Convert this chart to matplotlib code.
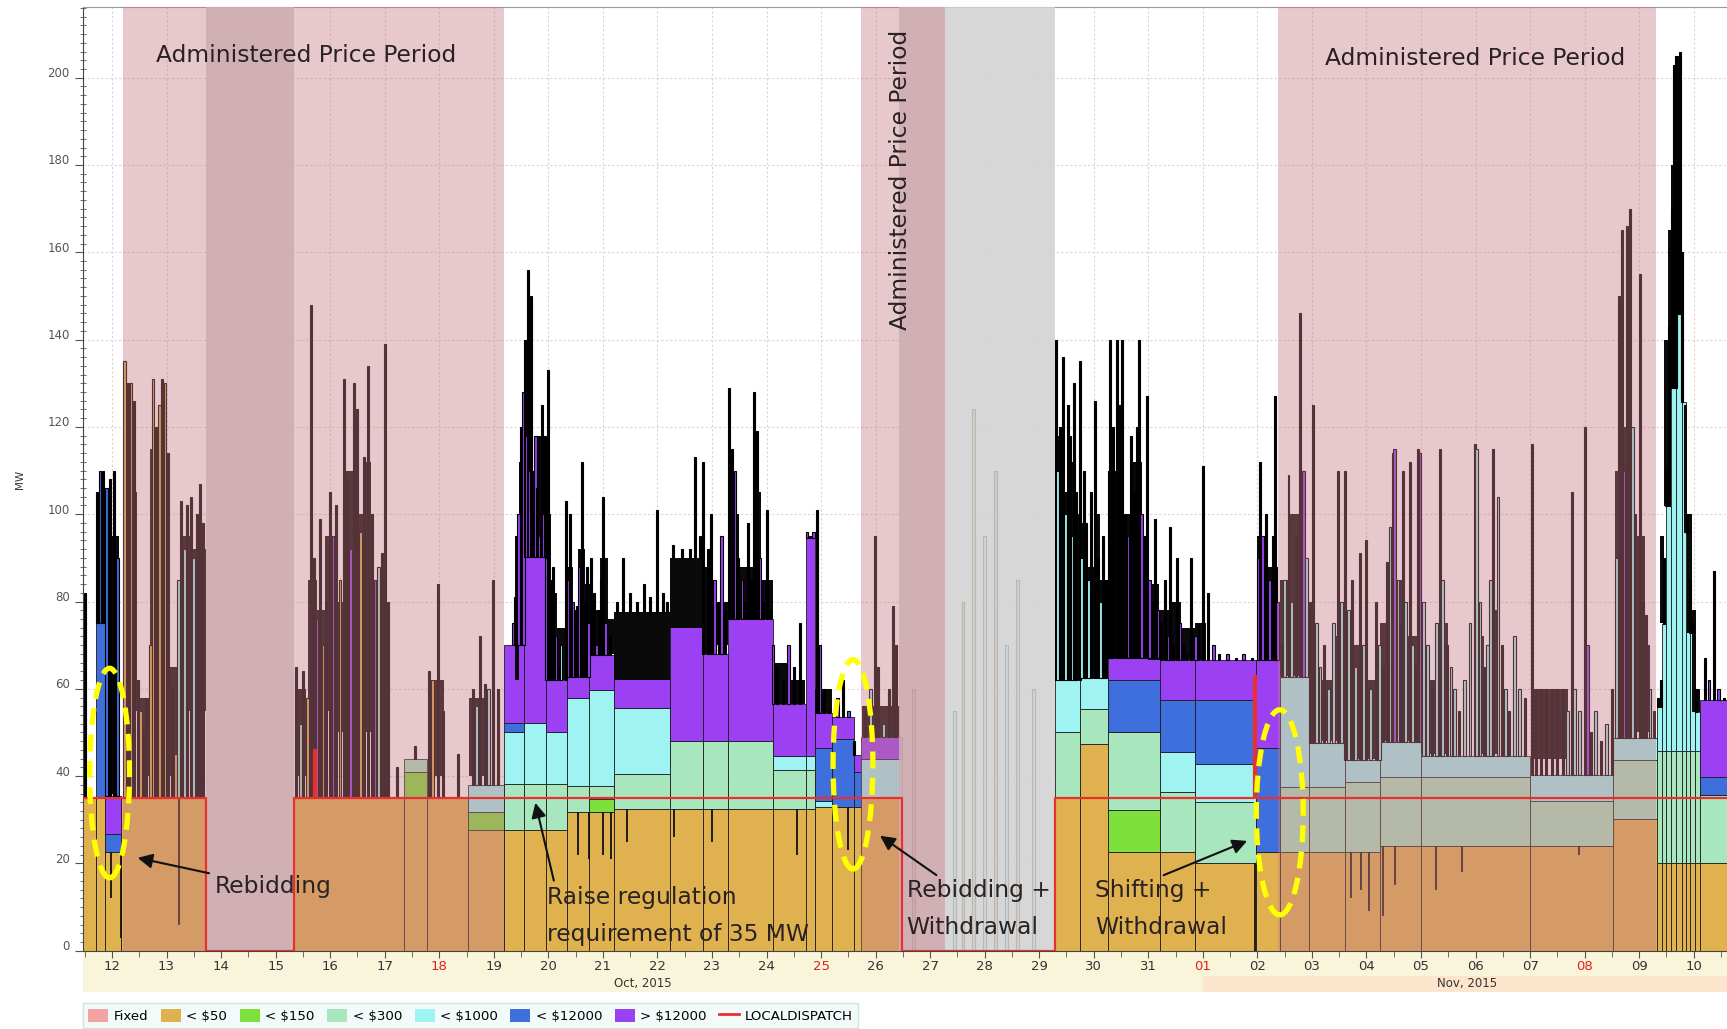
import numpy as np
import matplotlib
matplotlib.use("Agg")
import matplotlib.pyplot as plt
from matplotlib.patches import Ellipse, Rectangle, Patch
from matplotlib.lines import Line2D
from matplotlib.transforms import blended_transform_factory, ScaledTranslation

# time axis: day of Oct 2015 (Nov 1 = 32)
X_MIN, X_MAX = 11.468, 41.61
Y_MAX = 216.2

# step segments: start day and MW offered in each price band
seg_t = [11.45, 11.70, 11.88, 12.17, 13.72, 15.33, 17.35, 17.78, 18.52, 19.19,
         19.55, 19.95, 20.35, 20.75, 21.20, 22.23, 22.84, 23.30, 24.12, 24.72,
         24.88, 25.20, 25.60, 25.74, 26.48, 29.29, 29.75, 30.26, 31.21, 31.85,
         32.97, 33.41, 33.95, 34.60, 35.25, 36.00, 37.99, 39.52, 40.32, 40.41,
         40.50, 40.59, 40.68, 40.78, 40.85, 40.93, 41.02, 41.11]
lt50 = [35, 35, 22.6, 35, 0, 35, 35, 35, 27.7, 27.7,
        27.7, 27.7, 31.8, 31.8, 32.5, 32.5, 32.5, 32.5, 32.5, 32.5,
        32.9, 32.9, 32.9, 35, 0, 35, 47.4, 22.6, 22.6, 20.2,
        22.6, 22.6, 22.6, 22.6, 24.1, 24.1, 24.1, 30.2, 20, 20,
        20, 20, 20, 20, 20, 20, 20, 20]
lt150 = [0, 0, 0, 0, 0, 0, 6, 0, 4, 0,
         0, 0, 0, 3, 0, 0, 0, 0, 0, 0,
         0, 0, 0, 0, 0, 0, 0, 9.6, 0, 0,
         0, 0, 0, 0, 0, 0, 0, 0, 0, 0,
         0, 0, 0, 0, 0, 0, 0, 0]
lt300 = [0, 0, 0, 0, 0, 0, 3, 0, 0, 10.4,
         10.4, 10.4, 6, 3, 8, 15.5, 15.5, 15.5, 9, 9,
         0, 0, 0, 0, 0, 15, 8, 17.8, 13.8, 13.8,
         0, 15, 15, 16, 15.6, 15.6, 10.2, 13.6, 25.8, 25.8,
         25.8, 25.8, 25.8, 25.8, 25.8, 25.8, 25.8, 15.6]
lt1000 = [0, 0, 0, 0, 0, 0, 0, 0, 6.3, 12,
          14, 12, 20, 22, 15, 0, 0, 0, 3, 3,
          1.5, 0, 0, 9, 0, 12, 7, 0, 9.2, 8.8,
          0, 25, 10, 5, 8, 5, 6, 5, 10, 29,
          56, 83, 100, 80, 50, 27, 9, 0]
lt12000 = [0, 40, 4.1, 0, 0, 0, 0, 0, 0, 2,
           0, 0, 0, 0, 0, 0, 0, 0, 0, 0,
           12, 15.6, 8, 0, 0, 0, 0, 12, 11.9, 14.7,
           23.9, 0, 0, 0, 0, 0, 0, 0, 0, 0,
           0, 0, 0, 0, 0, 0, 0, 4.1]
gt12000 = [0, 0, 8.7, 0, 0, 0, 0, 0, 0, 18,
           38, 12, 5, 8, 22, 42, 20, 28, 12, 50,
           8, 5, 4, 5, 0, 0, 0, 5, 9.2, 9.2,
           20, 0, 0, 0, 0, 0, 0, 0, 0, 0,
           0, 0, 0, 0, 0, 0, 0, 17.7]

# dark mass where the 5-minute outlines overlap: (start, end, low MW, high MW)
mass_oct_a = [(11.70, 11.88, 75, 100), (11.92, 12.12, 36, 95), (12.20, 12.32, 60, 118),
              (12.32, 12.45, 55, 105), (12.45, 12.70, 40, 58), (12.70, 12.85, 60, 115),
              (12.85, 13.05, 55, 110), (13.05, 13.25, 40, 65), (13.25, 13.45, 55, 95),
              (13.45, 13.72, 55, 92), (15.36, 15.55, 40, 60), (15.60, 15.75, 50, 85),
              (15.75, 15.90, 50, 78), (15.90, 16.10, 55, 95), (16.10, 16.25, 50, 80),
              (16.25, 16.45, 55, 110), (16.45, 16.60, 55, 100), (16.60, 16.75, 50, 112),
              (16.75, 16.90, 45, 85), (16.90, 17.05, 45, 88), (17.80, 18.08, 40, 62),
              (18.55, 18.95, 40, 58)]
mass_oct_b = [(19.38, 19.47, 62, 95), (19.47, 19.55, 70, 112), (19.55, 19.62, 90, 118),
              (19.62, 19.72, 92, 135), (19.72, 19.80, 90, 110), (19.80, 19.90, 90, 118),
              (19.90, 19.95, 90, 105), (19.95, 20.05, 62, 100), (20.05, 20.15, 62, 82),
              (20.15, 20.30, 62, 74), (20.33, 20.45, 63, 88), (20.45, 20.55, 63, 78),
              (20.55, 20.68, 63, 92), (20.68, 20.80, 68, 84), (20.80, 20.95, 68, 78),
              (20.95, 21.10, 68, 90), (21.10, 21.20, 68, 76), (21.20, 22.23, 62, 77.5),
              (22.23, 22.84, 74, 90), (22.84, 23.00, 68, 88), (23.00, 23.30, 70, 80),
              (23.30, 23.50, 76, 100), (23.50, 23.75, 76, 88), (23.75, 23.90, 76, 105),
              (23.90, 24.12, 76, 85), (24.12, 24.40, 56.5, 66), (24.40, 24.70, 56.5, 62),
              (24.88, 25.20, 54.4, 60), (25.75, 26.45, 49, 56)]
mass_oct_c = [(29.29, 29.40, 62, 118), (29.40, 29.52, 62, 105), (29.52, 29.62, 62, 112),
              (29.62, 29.75, 62, 100), (29.75, 29.88, 62.4, 98), (29.88, 30.00, 62.4, 88),
              (30.00, 30.12, 62.4, 100), (30.12, 30.26, 62.4, 85), (30.26, 30.40, 67, 110),
              (30.40, 30.55, 67, 118), (30.55, 30.70, 67, 100), (30.70, 30.88, 67, 112),
              (30.88, 31.00, 67, 95), (31.00, 31.20, 66.7, 84), (31.20, 31.40, 66.7, 78),
              (31.40, 31.60, 66.7, 80), (31.60, 31.85, 66.7, 74), (31.85, 32.05, 66.7, 75)]
mass_nov = [(33.00, 33.15, 66.5, 95), (33.15, 33.37, 66.5, 88), (33.41, 33.60, 63, 85),
            (33.60, 33.85, 63, 100), (33.85, 33.95, 63, 80), (33.95, 34.10, 48, 75),
            (34.10, 34.40, 48, 62), (34.40, 34.65, 48, 72), (34.65, 34.95, 44, 70),
            (34.95, 35.25, 44, 62), (35.25, 35.45, 48, 75), (35.45, 35.70, 48, 85),
            (35.70, 36.00, 48, 72), (36.00, 36.25, 45, 62), (36.25, 36.50, 45, 75),
            (37.00, 37.15, 45, 72), (37.25, 37.45, 45, 78), (38.03, 38.70, 44, 60),
            (39.55, 39.70, 50, 110), (39.70, 39.90, 50, 120), (39.90, 40.10, 50, 95),
            (40.10, 40.20, 50, 70), (40.38, 40.45, 75, 95), (40.45, 40.52, 101.8, 140),
            (40.52, 40.58, 128.8, 165), (40.58, 40.62, 128.8, 180), (40.62, 40.68, 128.8, 200),
            (40.68, 40.74, 145.8, 205), (40.74, 40.78, 145.8, 170), (40.78, 40.82, 125.8, 150),
            (40.82, 40.88, 95.8, 125), (40.88, 40.96, 72.8, 100), (40.96, 41.05, 54.8, 78),
            (41.05, 41.11, 54.8, 60)]

# LOCALDISPATCH
dispatch_t = [11.45, 13.72, 15.33, 15.70, 15.74, 26.48, 29.29, 32.93, 32.97, 41.61]
dispatch_mw = [35, 0, 35, 46, 35, 0, 35, 63, 35, 35]

# short spikes on top of the stack: (day, top MW, band)
spikes_oct11 = [(11.50, 82, 'k'), (11.72, 105, 'k'), (11.78, 110, 'b'), (11.84, 110, 'k'),
                (11.90, 106, 'b'), (11.96, 108, 'k'), (12.03, 110, 'k'), (12.10, 90, 'b')]
spikes_oct12 = [(12.23, 135, 'g'), (12.29, 130, 'k'), (12.35, 130, 'g'), (12.40, 126, 'k'),
                (12.47, 62, 'k'), (12.52, 55, 'g'), (12.58, 50, 'k'), (12.63, 58, 'k'),
                (12.70, 70, 'g'), (12.75, 131, 'g'), (12.81, 120, 'k'), (12.87, 125, 'g'),
                (12.92, 131, 'k'), (12.97, 130, 'g'), (13.03, 114, 'k'), (13.10, 60, 'k'),
                (13.16, 45, 'g'), (13.22, 85, 'c'), (13.27, 103, 'k'), (13.33, 92, 'c'),
                (13.38, 102, 'k'), (13.45, 104, 'k'), (13.50, 90, 'c'), (13.56, 100, 'k'),
                (13.62, 107, 'k'), (13.67, 98, 'k')]
spikes_oct15 = [(15.38, 65, 'k'), (15.45, 52, 'l'), (15.50, 64, 'k'), (15.58, 58, 'g'),
                (15.65, 148, 'k'), (15.70, 90, 'k'), (15.76, 76, 'p'), (15.81, 99, 'k'),
                (15.87, 70, 'g'), (15.93, 80, 'k'), (15.99, 105, 'k'), (16.05, 95, 'p'),
                (16.11, 102, 'k'), (16.18, 85, 'g'), (16.26, 131, 'k'), (16.31, 108, 'k'),
                (16.37, 92, 'p'), (16.44, 130, 'k'), (16.50, 124, 'k'), (16.56, 96, 'g'),
                (16.62, 113, 'k'), (16.70, 134, 'k'), (16.76, 100, 'k'), (16.82, 85, 'p'),
                (16.88, 88, 'l'), (16.95, 91, 'k'), (17.01, 139, 'k'), (17.06, 80, 'k')]
spikes_oct17 = [(17.22, 42, 'k'), (17.55, 47, 'k'), (17.82, 64, 'k'), (17.88, 62, 'g'),
                (17.98, 84, 'k'), (18.07, 55, 'k'), (18.35, 45, 'k'), (18.62, 60, 'k'),
                (18.68, 56, 'c'), (18.75, 72, 'k'), (18.83, 61, 'k'), (18.90, 60, 'c'),
                (18.99, 85, 'k'), (19.08, 60, 'k')]
spikes_oct19 = [(19.25, 62, 'c'), (19.30, 70, 'k'), (19.35, 75, 'p'), (19.39, 81, 'k'),
                (19.45, 100, 'p'), (19.50, 120, 'k'), (19.54, 128, 'p'), (19.57, 140, 'k'),
                (19.60, 118, 'p'), (19.63, 156, 'k'), (19.66, 110, 'p'), (19.69, 150, 'k'),
                (19.73, 100, 'k'), (19.76, 118, 'p'), (19.79, 106, 'k'), (19.83, 95, 'p'),
                (19.88, 125, 'k'), (19.91, 100, 'p'), (19.94, 118, 'k'), (19.97, 90, 'p'),
                (20.00, 133, 'k'), (20.04, 85, 'k'), (20.09, 88, 'k'), (20.14, 72, 'p'),
                (20.19, 65, 'k'), (20.23, 70, 'c'), (20.27, 56, 'k'), (20.33, 103, 'k'),
                (20.37, 85, 'p'), (20.40, 100, 'k'), (20.45, 80, 'p'), (20.48, 75, 'k'),
                (20.52, 79, 'k'), (20.56, 88, 'p'), (20.61, 112, 'k'), (20.65, 80, 'k'),
                (20.70, 88, 'k'), (20.74, 75, 'p'), (20.79, 90, 'k'), (20.84, 82, 'k'),
                (20.88, 70, 'p'), (20.92, 78, 'k'), (20.96, 85, 'k'), (21.01, 104, 'k'),
                (21.05, 75, 'p'), (21.09, 68, 'k'), (21.13, 72, 'k')]
spikes_oct21 = [(21.25, 80, 'k'), (21.37, 90, 'k'), (21.50, 82, 'k'), (21.62, 80, 'k'),
                (21.75, 84, 'k'), (21.87, 81, 'k'), (21.99, 101, 'k'), (22.10, 82, 'k'),
                (22.18, 80, 'k'), (22.29, 93, 'k'), (22.45, 92, 'k'), (22.60, 92, 'k'),
                (22.69, 113, 'k'), (22.78, 95, 'k'), (22.84, 112, 'k'), (22.92, 92, 'k'),
                (22.99, 100, 'k'), (23.05, 85, 'p'), (23.12, 80, 'k'), (23.18, 95, 'p'),
                (23.24, 78, 'k'), (23.31, 129, 'k'), (23.36, 115, 'k'), (23.42, 110, 'p'),
                (23.48, 90, 'k'), (23.55, 85, 'p'), (23.60, 80, 'k'), (23.66, 98, 'k'),
                (23.72, 85, 'k'), (23.77, 128, 'k'), (23.82, 119, 'k'), (23.88, 90, 'p'),
                (23.94, 80, 'k'), (24.00, 101, 'k'), (24.06, 78, 'k'), (24.12, 70, 'p'),
                (24.20, 65, 'k'), (24.30, 62, 'k'), (24.40, 70, 'p'), (24.50, 65, 'k'),
                (24.62, 75, 'k'), (24.74, 96, 'p'), (24.80, 95, 'k'), (24.86, 96, 'p'),
                (24.92, 101, 'k'), (24.98, 70, 'p'), (25.05, 60, 'k'), (25.15, 55, 'k'),
                (25.30, 58, 'p'), (25.40, 62, 'k'), (25.50, 55, 'b'), (25.60, 48, 'k')]
spikes_oct25 = [(25.80, 55, 'k'), (25.90, 60, 'c'), (25.99, 95, 'k'), (26.05, 65, 'k'),
                (26.15, 52, 'c'), (26.25, 60, 'k'), (26.32, 79, 'k'), (26.38, 70, 'k'),
                (26.70, 60, 'g'), (27.45, 55, 'c'), (27.60, 80, 'g'), (27.80, 124, 'g'),
                (28.00, 95, 'c'), (28.20, 110, 'g'), (28.40, 70, 'c'), (28.60, 85, 'g'),
                (28.90, 60, 'c')]
spikes_oct29 = [(29.30, 140, 'k'), (29.34, 110, 'c'), (29.38, 120, 'k'), (29.44, 136, 'k'),
                (29.48, 100, 'c'), (29.52, 125, 'k'), (29.56, 118, 'k'), (29.60, 95, 'c'),
                (29.64, 130, 'k'), (29.68, 105, 'k'), (29.74, 135, 'k'), (29.78, 90, 'c'),
                (29.82, 110, 'k'), (29.86, 98, 'k'), (29.90, 85, 'c'), (29.95, 105, 'k'),
                (30.02, 126, 'k'), (30.07, 90, 'k'), (30.12, 80, 'c'), (30.17, 95, 'k'),
                (30.22, 85, 'k'), (30.27, 110, 'k'), (30.30, 140, 'k'), (30.36, 120, 'k'),
                (30.42, 140, 'k'), (30.48, 125, 'k'), (30.52, 140, 'k'), (30.58, 100, 'k'),
                (30.63, 95, 'p'), (30.68, 118, 'k'), (30.74, 105, 'k'), (30.80, 120, 'k'),
                (30.83, 140, 'k'), (30.88, 100, 'p'), (30.93, 95, 'k'), (30.97, 127, 'k'),
                (31.02, 85, 'p'), (31.07, 80, 'k'), (31.12, 99, 'k'), (31.18, 78, 'p'),
                (31.24, 75, 'k'), (31.30, 85, 'k'), (31.36, 72, 'p'), (31.40, 97, 'k'),
                (31.46, 70, 'k'), (31.52, 90, 'k'), (31.58, 75, 'p'), (31.64, 70, 'k'),
                (31.70, 68, 'k'), (31.79, 90, 'k'), (31.86, 72, 'p'), (31.92, 75, 'k'),
                (32.01, 111, 'k'), (32.10, 82, 'k'), (32.20, 70, 'p'), (32.30, 68, 'k'),
                (32.45, 68, 'p'), (32.60, 67, 'k'), (32.75, 68, 'p'), (32.90, 67, 'k'),
                (33.02, 90, 'p'), (33.05, 112, 'k'), (33.10, 95, 'p'), (33.16, 100, 'k'),
                (33.22, 85, 'p'), (33.28, 95, 'k'), (33.32, 127, 'k'), (33.37, 80, 'p')]
spikes_nov02 = [(33.45, 70, 'k'), (33.50, 85, 'c'), (33.57, 109, 'k'), (33.63, 80, 'c'),
                (33.70, 95, 'k'), (33.78, 146, 'k'), (33.84, 110, 'p'), (33.90, 90, 'c'),
                (33.96, 80, 'k'), (34.02, 125, 'k'), (34.08, 75, 'c'), (34.15, 65, 'c'),
                (34.22, 70, 'k'), (34.30, 60, 'c'), (34.40, 75, 'c'), (34.48, 110, 'k'),
                (34.54, 80, 'c'), (34.60, 110, 'k'), (34.67, 78, 'c'), (34.73, 85, 'k'),
                (34.80, 65, 'c'), (34.88, 91, 'k'), (34.94, 70, 'c'), (35.00, 94, 'k'),
                (35.08, 60, 'c'), (35.18, 80, 'k'), (35.24, 70, 'c'), (35.30, 65, 'k'),
                (35.38, 89, 'k'), (35.43, 97, 'c'), (35.49, 114, 'k'), (35.52, 115, 'p'),
                (35.58, 85, 'c'), (35.62, 75, 'k'), (35.67, 110, 'k'), (35.72, 80, 'c'),
                (35.80, 112, 'k'), (35.85, 70, 'c'), (35.90, 65, 'k'), (35.95, 115, 'k'),
                (35.98, 114, 'p'), (36.05, 80, 'c'), (36.12, 70, 'c'), (36.20, 60, 'k'),
                (36.28, 75, 'c'), (36.35, 115, 'k'), (36.40, 85, 'c'), (36.48, 70, 'k'),
                (36.55, 65, 'c'), (36.62, 60, 'c'), (36.70, 55, 'k'), (36.80, 62, 'c')]
spikes_nov05 = [(36.90, 75, 'c'), (36.99, 116, 'k'), (37.02, 115, 'c'), (37.08, 80, 'c'),
                (37.15, 65, 'k'), (37.22, 70, 'c'), (37.28, 85, 'c'), (37.32, 115, 'k'),
                (37.41, 104, 'c'), (37.48, 70, 'k'), (37.55, 60, 'c'), (37.62, 55, 'k'),
                (37.72, 72, 'c'), (37.80, 60, 'c'), (37.90, 58, 'k'), (38.03, 116, 'k'),
                (38.10, 60, 'k'), (38.20, 60, 'k'), (38.30, 60, 'k'), (38.40, 60, 'k'),
                (38.50, 60, 'k'), (38.60, 60, 'k'), (38.68, 55, 'c'), (38.76, 105, 'k'),
                (38.82, 60, 'c'), (38.90, 55, 'c'), (39.00, 120, 'k'), (39.05, 70, 'p'),
                (39.12, 50, 'k'), (39.20, 55, 'c'), (39.30, 48, 'k'), (39.40, 52, 'c'),
                (39.50, 60, 'k'), (39.58, 90, 'c'), (39.63, 150, 'k'), (39.68, 165, 'k'),
                (39.72, 110, 'p'), (39.77, 166, 'k'), (39.83, 170, 'k'), (39.88, 120, 'c'),
                (39.93, 100, 'k'), (40.01, 155, 'k'), (40.07, 80, 'k'), (40.13, 77, 'k'),
                (40.20, 60, 'c'), (40.27, 55, 'k')]
spikes_nov09 = [(40.35, 58, 'k'), (40.40, 62, 'k'), (40.45, 90, 'k'), (40.50, 110, 'k'),
                (40.55, 143, 'k'), (40.60, 170, 'k'), (40.63, 203, 'k'), (40.67, 205, 'k'),
                (40.71, 200, 'k'), (40.74, 206, 'k'), (40.78, 160, 'k'), (40.82, 123, 'k'),
                (40.87, 100, 'k'), (40.93, 85, 'k'), (40.98, 75, 'k'), (41.04, 60, 'k'),
                (41.09, 53, 'k'), (41.20, 67, 'k'), (41.28, 62, 'p'), (41.38, 87, 'k'),
                (41.45, 60, 'p'), (41.55, 58, 'k')]

# short dips of the < $50 band
dip_t = [11.99, 12.16, 13.23, 20.55, 20.75, 21.00, 21.15, 21.45, 22.30, 23.00,
         24.55, 25.50, 32.95, 34.72, 34.90, 35.05, 35.30, 35.52, 36.28, 36.75, 38.90]
dip_mw = [12, 3, 6, 22, 21, 22, 21, 25, 26, 25,
          22, 23, 0, 12, 14, 9, 8, 15, 14, 18, 22]

# shaded periods
admin_periods = [(12.20, 19.19), (25.73, 27.27), (33.37, 40.30)]
grey_periods = [(13.72, 15.33), (26.42, 29.29)]

day_ticks = list(range(12, 42))
day_labels = ['12', '13', '14', '15', '16', '17', '18', '19', '20', '21', '22', '23',
              '24', '25', '26', '27', '28', '29', '30', '31', '01', '02', '03', '04',
              '05', '06', '07', '08', '09', '10']
sunday_labels = ['18', '25', '01', '08']

band_names = ['Fixed', '< $50', '< $150', '< $300', '< $1000', '< $12000', '> $12000']
band_colors = ['#f4a3a3', '#e0b24f', '#7ee03c', '#a8e6be', '#9ff3f3', '#3f6fdc', '#9b40f2']
spike_colors = {'k': '#000000', 'g': '#e0b24f', 'm': '#7ee03c', 'l': '#a8e6be',
                'c': '#9ff3f3', 'b': '#3f6fdc', 'p': '#9b40f2'}

fig = plt.figure(figsize=(17.27, 10.29), dpi=100)
ax = fig.add_axes([83 / 1727, 1 - 950.7 / 1029, 1 - 83 / 1727, (950.7 - 7) / 1029])
ax.set_xlim(X_MIN, X_MAX)
ax.set_ylim(0, Y_MAX)

# stacked bid bands
seg = np.array(seg_t)
widths = np.diff(np.append(seg, X_MAX))
bottom = np.zeros(len(seg))
for vals, col in zip([lt50, lt150, lt300, lt1000, lt12000, gt12000], band_colors[1:]):
    vals = np.array(vals, dtype=float)
    m = vals > 0
    ax.bar(seg[m], vals[m], width=widths[m], bottom=bottom[m], align='edge',
           color=col, edgecolor='#1c1c1c', linewidth=0.6, zorder=2)
    bottom += vals
stack_top = bottom

# dark overlapping outlines
mass = np.array(mass_oct_a + mass_oct_b + mass_oct_c + mass_nov, dtype=float)
ax.bar(mass[:, 0], mass[:, 3] - mass[:, 2], width=mass[:, 1] - mass[:, 0],
       bottom=mass[:, 2], align='edge', color='#0a0a0a', linewidth=0, zorder=2.3)

# spikes
all_spikes = (spikes_oct11 + spikes_oct12 + spikes_oct15 + spikes_oct17 + spikes_oct19 +
              spikes_oct21 + spikes_oct25 + spikes_oct29 + spikes_nov02 + spikes_nov05 +
              spikes_nov09)
sp_t = np.array([s[0] for s in all_spikes])
sp_top = np.array([s[1] for s in all_spikes], dtype=float)
sp_col = [s[2] for s in all_spikes]
idx = np.searchsorted(seg, sp_t, side='right') - 1
sp_base = stack_top[idx]
for t, top, base, c in zip(sp_t, sp_top, sp_base, sp_col):
    if top <= base:
        continue
    w = 0.036 if c == 'k' else 0.05
    ax.bar(t, top - base, width=w, bottom=base, color=spike_colors[c],
           edgecolor='#000000', linewidth=0.8, zorder=2.5)

# dips in the base band
base_at = np.array(lt50, dtype=float)[np.searchsorted(seg, dip_t, side='right') - 1]
ax.vlines(dip_t, dip_mw, base_at, color='#111111', lw=1.3, zorder=2.6)

# shaded periods (drawn over the data, which tints it)
for a, b in grey_periods:
    ax.axvspan(a, b, color='#d2d2d2', alpha=0.88, lw=0, zorder=3)
for a, b in admin_periods:
    ax.axvspan(a, b, color='#c87c88', alpha=0.42, lw=0, zorder=3.1)

ax.step(dispatch_t, dispatch_mw, where='post', color='#e8312f', lw=1.6, zorder=4)

# yellow dashed ellipses
for cx, cy, w, h in [(11.955, 40.7, 0.73, 48), (25.585, 42.7, 0.73, 48), (33.41, 31.7, 0.86, 47)]:
    ax.add_patch(Ellipse((cx, cy), w, h, fill=False, edgecolor='#ffff00', lw=3.8,
                         linestyle=(0, (3.2, 1.8)), zorder=5))

txt = dict(fontsize=16.8, color='#2a2222', zorder=6, family='DejaVu Sans')
ax.text(15.55, 205, 'Administered Price Period', ha='center', va='center', **txt)
ax.text(37.0, 204.5, 'Administered Price Period', ha='center', va='center', **txt)
ax.text(26.46, 176.5, 'Administered Price Period', ha='center', va='center', rotation=90, **txt)

arrow = dict(arrowstyle='-|>', color='#111111', lw=1.5, mutation_scale=22)
ax.annotate('Rebidding', xy=(12.42, 21.4), xytext=(13.88, 14.6), ha='left', va='center',
            arrowprops=arrow, **txt)
ax.annotate('Raise regulation\nrequirement of 35 MW', xy=(19.75, 34.5), xytext=(19.98, 8.0),
            ha='left', va='center', linespacing=1.75, arrowprops=dict(arrow, relpos=(0.03, 1.0)),
            **txt)
ax.annotate('Rebidding +\nWithdrawal', xy=(26.04, 26.7), xytext=(26.57, 9.5),
            ha='left', va='center', linespacing=1.75, arrowprops=dict(arrow, relpos=(0.25, 1.0)),
            **txt)
ax.annotate('Shifting +\nWithdrawal', xy=(32.86, 25.4), xytext=(30.02, 9.6),
            ha='left', va='center', linespacing=1.75, arrowprops=dict(arrow, relpos=(0.45, 1.0)),
            **txt)

# axes styling
ax.set_axisbelow(True)
ax.grid(True, which='major', color='#d6d6d6', lw=0.8, ls=(0, (2, 2)), zorder=0)
ax.set_yticks(range(0, 201, 20))
ax.yaxis.set_minor_locator(plt.MultipleLocator(2))
ax.set_xticks(day_ticks)
ax.set_xticklabels(day_labels)
ax.xaxis.set_minor_locator(plt.MultipleLocator(0.5))
ax.tick_params(axis='y', which='major', length=6, direction='out', labelsize=8.5,
               labelcolor='#555555', color='#555555')
ax.tick_params(axis='y', which='minor', length=4, direction='inout', color='#555555')
ax.tick_params(axis='x', which='major', length=5, direction='out', labelsize=9.5,
               labelcolor='#333333', color='#555555', pad=2)
ax.tick_params(axis='x', which='minor', length=4, direction='out', color='#555555')
for lab in ax.get_yticklabels():
    lab.set_transform(lab.get_transform() + ScaledTranslation(0, 4 / 72, fig.dpi_scale_trans))
for lab in ax.get_xticklabels():
    if lab.get_text() in sunday_labels:
        lab.set_color('#e02020')
for side in ['left', 'bottom']:
    ax.spines[side].set_color('#444444')
ax.spines['top'].set_color('#999999')
ax.spines['right'].set_visible(False)
fig.text(0.0116, 0.534, 'MW', rotation=90, fontsize=7.5, color='#333333', ha='center', va='center')

# date band under the axis
x_nov = 83 / 1727 + (32 - X_MIN) / (X_MAX - X_MIN) * (1 - 83 / 1727)
fig.add_artist(Rectangle((83 / 1727, 1 - 992 / 1029), 1, (992 - 949) / 1029,
                         transform=fig.transFigure, color='#f8f5da', lw=0, zorder=-1))
fig.add_artist(Rectangle((x_nov, 1 - 992 / 1029), 1, (992 - 976) / 1029,
                         transform=fig.transFigure, color='#fde4cd', lw=0, zorder=-1))
trans = blended_transform_factory(ax.transData, fig.transFigure)
ax.text(21.73, 1 - 983 / 1029, 'Oct, 2015', transform=trans, ha='center', va='center',
        fontsize=8.5, color='#333333', clip_on=False)
ax.text(36.85, 1 - 983 / 1029, 'Nov, 2015', transform=trans, ha='center', va='center',
        fontsize=8.5, color='#333333', clip_on=False)

# legend
handles = [Patch(facecolor=c, edgecolor='none') for c in band_colors]
handles.append(Line2D([0], [0], color='#e8312f', lw=2))
leg = fig.legend(handles, band_names + ['LOCALDISPATCH'], ncol=8, loc='lower left',
                 bbox_to_anchor=(83 / 1727, 1 / 1029), borderaxespad=0, fontsize=9.6,
                 frameon=True, fancybox=False, handlelength=1.5, handleheight=1.1,
                 handletextpad=0.4, columnspacing=0.95, borderpad=0.4)
leg.get_frame().set_facecolor('#f1f9f9')
leg.get_frame().set_edgecolor('#c9dede')

fig.savefig('out.png', dpi=100)
